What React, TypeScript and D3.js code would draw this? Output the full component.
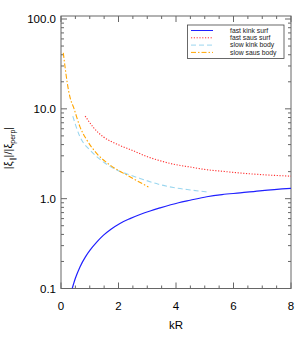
import React, { useEffect, useRef } from 'react';
import * as d3 from 'd3';

// values (kR, |xi_par|/|xi_perp|)
const fastKinkKR = [0.39, 0.5, 0.66, 0.85, 1.01, 1.25, 1.47, 1.75, 2.05, 2.4, 2.75, 3.1, 3.45, 4.09, 4.49, 5.07, 5.6, 6.23, 7.0, 8.0];
const fastKinkVal = [0.1, 0.13, 0.174, 0.225, 0.267, 0.33, 0.39, 0.46, 0.53, 0.6, 0.667, 0.73, 0.79, 0.9, 0.96, 1.05, 1.11, 1.16, 1.23, 1.3];

const fastSausKR = [0.84, 1.13, 1.47, 1.94, 2.52, 2.98, 3.45, 3.91, 4.5, 5.07, 5.6, 6.23, 7.0, 8.0];
const fastSausVal = [8.3, 6.2, 4.88, 4.05, 3.41, 2.95, 2.64, 2.42, 2.25, 2.1, 2.02, 1.93, 1.85, 1.78];

const slowKinkKR = [0.41, 0.66, 1.01, 1.47, 1.94, 2.3, 2.75, 3.39, 3.91, 4.5, 5.07];
const slowKinkVal = [8.3, 4.88, 3.47, 2.57, 2.08, 1.88, 1.68, 1.45, 1.33, 1.25, 1.19];

const slowSausKR = [0.08, 0.14, 0.22, 0.31, 0.45, 0.66, 0.9, 1.24, 1.71, 2.29, 3.04];
const slowSausVal = [42, 29.4, 19.2, 13.6, 10.1, 6.3, 4.49, 3.19, 2.36, 1.83, 1.35];

const seriesNames = ['fast kink surf', 'fast saus surf', 'slow kink body', 'slow saus body'];
const seriesColors = ['#2020ff', '#ff3030', '#9ad6ef', '#ffa500'];
const seriesDash = [null, '1.2,1.6', '5,3', '5,2,1.5,2'];

const xTicks = [0, 2, 4, 6, 8];
const yTicks = [0.1, 1, 10, 100];
const yTickLabels = ['0.1', '1.0', '10.0', '100.0'];

type Pt = { x: number; y: number };

const zip = (xs: number[], ys: number[]): Pt[] => xs.map((x, i) => ({ x, y: ys[i] }));

const App = () => {
  const ref = useRef<SVGSVGElement | null>(null);

  useEffect(() => {
    if (!ref.current) return;
    const svg = d3.select(ref.current);
    svg.selectAll('*').remove();

    const left = 61, right = 291, top = 16, bottom = 288.5;
    const font = 'Liberation Sans, Arial, sans-serif';

    const x = d3.scaleLinear().domain([0, 8]).range([left, right]);
    const y = d3.scaleLog().domain([0.1, 108]).range([bottom, top]);

    svg.append('defs').append('clipPath').attr('id', 'plotclip')
      .append('rect').attr('x', left).attr('y', top)
      .attr('width', right - left).attr('height', bottom - top);

    const axisColor = '#666';
    const g = svg.append('g');

    // x ticks (major every 2, minor every 0.5), bottom and top, pointing in
    d3.range(0, 8.01, 0.5).forEach(v => {
      const len = v % 2 === 0 ? 6 : 3;
      g.append('line').attr('x1', x(v)).attr('x2', x(v)).attr('y1', bottom).attr('y2', bottom - len)
        .attr('stroke', axisColor);
      g.append('line').attr('x1', x(v)).attr('x2', x(v)).attr('y1', top).attr('y2', top + len)
        .attr('stroke', axisColor);
    });

    // y ticks: decades major, 2..9 minor
    const yMinor: number[] = [];
    [0.1, 1, 10, 100].forEach(d => {
      for (let k = 1; k <= 9; k++) if (d * k <= 108) yMinor.push(d * k);
    });
    yMinor.forEach(v => {
      const major = yTicks.some(t => Math.abs(t - v) < 1e-9);
      const len = major ? 6 : 3;
      g.append('line').attr('x1', left).attr('x2', left + len).attr('y1', y(v)).attr('y2', y(v))
        .attr('stroke', axisColor);
      g.append('line').attr('x1', right).attr('x2', right - len).attr('y1', y(v)).attr('y2', y(v))
        .attr('stroke', axisColor);
    });

    g.append('rect').attr('x', left).attr('y', top).attr('width', right - left).attr('height', bottom - top)
      .attr('fill', 'none').attr('stroke', axisColor).attr('stroke-width', 1);

    // tick labels
    g.selectAll('.xl').data(xTicks).enter().append('text')
      .attr('x', d => x(d)).attr('y', 310).attr('text-anchor', 'middle')
      .style('font-family', font).style('font-size', '11.5px').text(d => String(d));

    g.selectAll('.yl').data(yTicks).enter().append('text')
      .attr('x', 56).attr('y', d => y(d) + 4).attr('text-anchor', 'end')
      .style('font-family', font).style('font-size', '11.5px').text((d, i) => yTickLabels[i]);

    g.append('text').attr('x', x(4)).attr('y', 329).attr('text-anchor', 'middle')
      .style('font-family', font).style('font-size', '11.5px').text('kR');

    const yt = g.append('text').attr('transform', 'translate(12,148) rotate(-90)')
      .attr('text-anchor', 'middle').style('font-family', font).style('font-size', '11px');
    yt.append('tspan').text('|ξ');
    yt.append('tspan').attr('dy', 3).style('font-size', '7px').text('∥');
    yt.append('tspan').attr('dy', -3).text('|/|ξ');
    yt.append('tspan').attr('dy', 3).style('font-size', '7px').text('perp');
    yt.append('tspan').attr('dy', -3).text('|');

    // curves
    const line = d3.line<Pt>().x(d => x(d.x)).y(d => y(d.y)).curve(d3.curveMonotoneX);
    const series = [
      zip(fastKinkKR, fastKinkVal),
      zip(fastSausKR, fastSausVal),
      zip(slowKinkKR, slowKinkVal),
      zip(slowSausKR, slowSausVal),
    ];
    const curves = svg.append('g').attr('clip-path', 'url(#plotclip)');
    series.forEach((s, i) => {
      curves.append('path').datum(s).attr('d', line).attr('fill', 'none')
        .attr('stroke', seriesColors[i]).attr('stroke-width', i === 0 ? 1.2 : 1.1)
        .attr('stroke-dasharray', seriesDash[i]);
    });

    // legend
    const lg = svg.append('g');
    lg.append('rect').attr('x', 187.5).attr('y', 25).attr('width', 96.5).attr('height', 33.5)
      .attr('fill', 'white').attr('stroke', '#444').attr('stroke-width', 0.8);
    seriesNames.forEach((name, i) => {
      const yy = 30.5 + i * 7.3;
      lg.append('line').attr('x1', 191).attr('x2', 213).attr('y1', yy).attr('y2', yy)
        .attr('stroke', seriesColors[i]).attr('stroke-width', 1)
        .attr('stroke-dasharray', seriesDash[i]);
      lg.append('text').attr('x', 230).attr('y', yy + 2.3)
        .style('font-family', font).style('font-size', '6.8px').style('fill', '#222').text(name);
    });
  }, []);

  return (
    <svg ref={ref} width={306} height={340}
      style={{ position: 'absolute', left: 0, top: 0, background: 'white' }} />
  );
};

export default App;
